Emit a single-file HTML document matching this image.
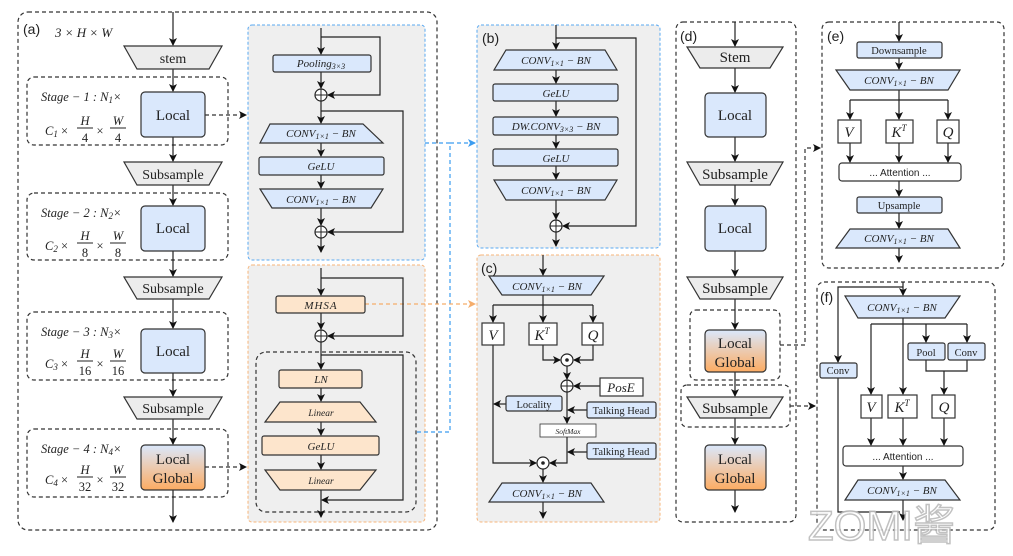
<!DOCTYPE html>
<html><head><meta charset="utf-8"><style>
html,body{margin:0;padding:0;background:#fff}
svg{display:block}
text{font-family:"Liberation Serif",serif;fill:#222}
.m{font-style:italic}
.s{font-family:"Liberation Sans",sans-serif}
</style></head><body>
<svg width="1013" height="556" viewBox="0 0 1013 556" xmlns="http://www.w3.org/2000/svg">
<defs>
<marker id="a" markerWidth="8" markerHeight="8" refX="7" refY="4" orient="auto" markerUnits="userSpaceOnUse"><path d="M0,0 L8,4 L0,8 L2,4 z" fill="#111"/></marker>
<marker id="ab" markerWidth="8" markerHeight="8" refX="7" refY="4" orient="auto" markerUnits="userSpaceOnUse"><path d="M0,0 L8,4 L0,8 L2,4 z" fill="#3b9cf0"/></marker>
<marker id="ao" markerWidth="8" markerHeight="8" refX="7" refY="4" orient="auto" markerUnits="userSpaceOnUse"><path d="M0,0 L8,4 L0,8 L2,4 z" fill="#f5ad6b"/></marker>
<linearGradient id="g" x1="0" y1="0" x2="0" y2="1"><stop offset="0" stop-color="#dae8fc"/><stop offset="1" stop-color="#fdac62"/></linearGradient>
</defs>
<g fill="none" stroke="#333" stroke-width="1.2">
<!-- (a) outer -->
<rect x="18" y="12" width="419" height="518" rx="10" stroke-dasharray="4,3"/>
<rect x="27" y="77" width="201" height="68" rx="7" stroke-dasharray="4,3"/>
<rect x="27" y="193" width="201" height="67" rx="7" stroke-dasharray="4,3"/>
<rect x="27" y="312" width="201" height="68" rx="7" stroke-dasharray="4,3"/>
<rect x="27" y="429" width="201" height="68" rx="7" stroke-dasharray="4,3"/>
</g>
<!-- gray panels -->
<rect x="248" y="25" width="177" height="235" rx="4" fill="#efefef" stroke="#5aa9f2" stroke-dasharray="3,2"/>
<rect x="248" y="265" width="177" height="257" rx="4" fill="#efefef" stroke="#f7b57a" stroke-dasharray="3,2"/>
<rect x="477" y="25" width="183" height="223" rx="4" fill="#efefef" stroke="#5aa9f2" stroke-dasharray="3,2"/>
<rect x="477" y="255" width="183" height="267" rx="4" fill="#efefef" stroke="#f7b57a" stroke-dasharray="3,2"/>
<g fill="none" stroke="#333" stroke-width="1.2" stroke-dasharray="4,3">
<rect x="256" y="352" width="160" height="160" rx="10"/>
<rect x="676" y="22" width="120" height="500" rx="7"/>
<rect x="690" y="310" width="90" height="70" rx="6"/>
<rect x="681" y="385" width="109" height="42" rx="6"/>
<rect x="822" y="22" width="182" height="246" rx="7"/>
<rect x="817" y="282" width="178" height="248" rx="7"/>
</g>
<!-- dashed connectors -->
<g fill="none" stroke-width="1.2" stroke-dasharray="4,3">
<path d="M205,115 H246" stroke="#333" marker-end="url(#a)"/>
<path d="M205,467 H246" stroke="#333" marker-end="url(#a)"/>
<path d="M425,143 H450 V432 H416" stroke="#3b9cf0"/>
<path d="M450,143 H475" stroke="#3b9cf0" marker-end="url(#ab)"/>
<path d="M365,304 H475" stroke="#f5ad6b" marker-end="url(#ao)"/>
<path d="M780,345 H805 V148 H820" stroke="#333" marker-end="url(#a)"/>
<path d="M790,406 H815" stroke="#333" marker-end="url(#a)"/>
</g>
<!-- solid lines -->
<g fill="none" stroke="#222" stroke-width="1.2">
<!-- a main -->
<path d="M173,12 V45" marker-end="url(#a)"/>
<path d="M173,69 V91" marker-end="url(#a)"/>
<path d="M173,137 V161" marker-end="url(#a)"/>
<path d="M173,185 V205" marker-end="url(#a)"/>
<path d="M173,251 V276" marker-end="url(#a)"/>
<path d="M173,299 V328" marker-end="url(#a)"/>
<path d="M173,373 V396" marker-end="url(#a)"/>
<path d="M173,419 V444" marker-end="url(#a)"/>
<path d="M173,490 V522" marker-end="url(#a)"/>
<!-- blue block -->
<path d="M321,28 V54" marker-end="url(#a)"/>
<path d="M321,37 H380 V95 H328" marker-end="url(#a)"/>
<path d="M321,72 V88" marker-end="url(#a)"/>
<path d="M321,101 V123" marker-end="url(#a)"/>
<path d="M321,111 H403 V232 H328" marker-end="url(#a)"/>
<path d="M321,143 V156" marker-end="url(#a)"/>
<path d="M321,175 V188" marker-end="url(#a)"/>
<path d="M321,208 V225" marker-end="url(#a)"/>
<path d="M321,238 V252" marker-end="url(#a)"/>
<!-- orange block -->
<path d="M321,268 V295" marker-end="url(#a)"/>
<path d="M321,278 H403 V336 H328" marker-end="url(#a)"/>
<path d="M321,313 V329" marker-end="url(#a)"/>
<path d="M321,342 V369" marker-end="url(#a)"/>
<path d="M321,355 H403 V500 H322" marker-end="url(#a)"/>
<path d="M321,388 V401" marker-end="url(#a)"/>
<path d="M321,422 V435" marker-end="url(#a)"/>
<path d="M321,455 V469" marker-end="url(#a)"/>
<path d="M321,490 V517" marker-end="url(#a)"/>
<!-- b -->
<path d="M556,25 V49" marker-end="url(#a)"/>
<path d="M556,38 H636 V226 H563" marker-end="url(#a)"/>
<path d="M556,70 V83" marker-end="url(#a)"/>
<path d="M556,101 V116" marker-end="url(#a)"/>
<path d="M556,135 V148" marker-end="url(#a)"/>
<path d="M556,166 V179" marker-end="url(#a)"/>
<path d="M556,200 V219" marker-end="url(#a)"/>
<path d="M556,232 V246" marker-end="url(#a)"/>
<!-- c -->
<path d="M543,255 V275" marker-end="url(#a)"/>
<path d="M543,295 V322" marker-end="url(#a)"/>
<path d="M493,305 H593"/>
<path d="M493,305 V322" marker-end="url(#a)"/>
<path d="M593,305 V322" marker-end="url(#a)"/>
<path d="M543,345 V360 H560" marker-end="url(#a)"/>
<path d="M593,345 V360 H574" marker-end="url(#a)"/>
<path d="M567,366 V379" marker-end="url(#a)"/>
<path d="M600,386 H574" marker-end="url(#a)"/>
<path d="M567,392 V423" marker-end="url(#a)"/>
<path d="M587,410 H568" marker-end="url(#a)"/>
<path d="M506,404 H494" marker-end="url(#a)"/>
<path d="M493,345 V463 H536" marker-end="url(#a)"/>
<path d="M567,437 V463 H550" marker-end="url(#a)"/>
<path d="M587,452 H568" marker-end="url(#a)"/>
<path d="M543,469 V482" marker-end="url(#a)"/>
<path d="M543,502 V518" marker-end="url(#a)"/>
<!-- d -->
<path d="M735,22 V46" marker-end="url(#a)"/>
<path d="M735,68 V92" marker-end="url(#a)"/>
<path d="M735,137 V161" marker-end="url(#a)"/>
<path d="M735,185 V205" marker-end="url(#a)"/>
<path d="M735,251 V276" marker-end="url(#a)"/>
<path d="M735,299 V329" marker-end="url(#a)"/>
<path d="M735,372 V396" marker-end="url(#a)"/>
<path d="M735,418 V444" marker-end="url(#a)"/>
<path d="M735,490 V512" marker-end="url(#a)"/>
<!-- e -->
<path d="M899,22 V41" marker-end="url(#a)"/>
<path d="M899,58 V69" marker-end="url(#a)"/>
<path d="M899,90 V119" marker-end="url(#a)"/>
<path d="M850,100 H948"/>
<path d="M850,100 V119" marker-end="url(#a)"/>
<path d="M948,100 V119" marker-end="url(#a)"/>
<path d="M850,143 V162" marker-end="url(#a)"/>
<path d="M899,143 V162" marker-end="url(#a)"/>
<path d="M948,143 V162" marker-end="url(#a)"/>
<path d="M899,181 V196" marker-end="url(#a)"/>
<path d="M899,213 V228" marker-end="url(#a)"/>
<path d="M899,248 V262" marker-end="url(#a)"/>
<!-- f -->
<path d="M903,282 V295" marker-end="url(#a)"/>
<path d="M903,287 H838 V362" marker-end="url(#a)"/>
<path d="M838,378 V512 H900" />
<path d="M903,318 V394" marker-end="url(#a)"/>
<path d="M871,324 H967"/>
<path d="M871,324 V394" marker-end="url(#a)"/>
<path d="M926,324 V342" marker-end="url(#a)"/>
<path d="M967,324 V342" marker-end="url(#a)"/>
<path d="M926,360 V371 H967 V360"/>
<path d="M944,371 V394" marker-end="url(#a)"/>
<path d="M871,418 V445" marker-end="url(#a)"/>
<path d="M903,418 V445" marker-end="url(#a)"/>
<path d="M944,418 V445" marker-end="url(#a)"/>
<path d="M903,466 V479" marker-end="url(#a)"/>
<path d="M903,500 V520" marker-end="url(#a)"/>
</g>
<!-- shapes -->
<g stroke="#333" stroke-width="1.2">
<!-- a column -->
<path d="M124,46 H222 L209,69 H137 Z" fill="#ececec"/>
<path d="M124,162 H222 L209,185 H137 Z" fill="#ececec"/>
<path d="M124,277 H222 L209,299 H137 Z" fill="#ececec"/>
<path d="M124,397 H222 L209,419 H137 Z" fill="#ececec"/>
<rect x="141" y="92" width="64" height="45" rx="4" fill="#dae8fc"/>
<rect x="141" y="206" width="64" height="45" rx="4" fill="#dae8fc"/>
<rect x="141" y="329" width="64" height="44" rx="4" fill="#dae8fc"/>
<rect x="141" y="445" width="64" height="45" rx="4" fill="url(#g)"/>
<!-- blue block -->
<rect x="273" y="55" width="98" height="17" rx="2" fill="#dae8fc"/>
<path d="M270,124 H363 L383,143 H260 Z" fill="#dae8fc"/>
<rect x="259" y="157" width="125" height="18" rx="2" fill="#dae8fc"/>
<path d="M260,189 H383 L371,208 H272 Z" fill="#dae8fc"/>
<!-- orange -->
<rect x="276" y="296" width="89" height="17" rx="2" fill="#fde5cc"/>
<rect x="279" y="370" width="83" height="18" rx="2" fill="#fde5cc"/>
<path d="M280,402 H360 L376,422 H265 Z" fill="#fde5cc"/>
<rect x="262" y="436" width="117" height="19" rx="2" fill="#fde5cc"/>
<path d="M265,470 H376 L360,490 H280 Z" fill="#fde5cc"/>
<!-- b -->
<path d="M506,50 H605 L617,70 H494 Z" fill="#dae8fc"/>
<rect x="493" y="84" width="125" height="17" rx="2" fill="#dae8fc"/>
<rect x="493" y="117" width="125" height="18" rx="2" fill="#dae8fc"/>
<rect x="493" y="149" width="125" height="17" rx="2" fill="#dae8fc"/>
<path d="M494,180 H617 L605,200 H506 Z" fill="#dae8fc"/>
<!-- c -->
<path d="M489,276 H604 L591,295 H502 Z" fill="#dae8fc"/>
<rect x="482" y="323" width="22" height="22" fill="#fff"/>
<rect x="529" y="323" width="28" height="22" fill="#fff"/>
<rect x="582" y="323" width="21" height="22" fill="#fff"/>
<rect x="600" y="378" width="43" height="18" fill="#fff"/>
<rect x="506" y="396" width="56" height="15" rx="2" fill="#dae8fc"/>
<rect x="587" y="402" width="69" height="16" rx="2" fill="#dae8fc"/>
<rect x="587" y="443" width="69" height="16" rx="2" fill="#dae8fc"/>
<rect x="540" y="424" width="56" height="13" fill="#fff" stroke-width="0.8"/>
<path d="M502,483 H591 L604,502 H489 Z" fill="#dae8fc"/>
<!-- d -->
<path d="M687,47 H783 L770,68 H700 Z" fill="#ececec"/>
<rect x="705" y="93" width="61" height="44" rx="4" fill="#dae8fc"/>
<path d="M687,162 H783 L770,185 H700 Z" fill="#ececec"/>
<rect x="705" y="206" width="61" height="45" rx="4" fill="#dae8fc"/>
<path d="M687,277 H783 L770,299 H700 Z" fill="#ececec"/>
<rect x="705" y="330" width="61" height="42" rx="4" fill="url(#g)"/>
<path d="M687,397 H783 L770,418 H700 Z" fill="#ececec"/>
<rect x="705" y="445" width="61" height="45" rx="4" fill="url(#g)"/>
<!-- e -->
<rect x="857" y="42" width="85" height="16" rx="2" fill="#dae8fc"/>
<path d="M836,70 H960 L948,90 H850 Z" fill="#dae8fc"/>
<rect x="838" y="120" width="23" height="23" fill="#fff"/>
<rect x="886" y="120" width="27" height="23" fill="#fff"/>
<rect x="937" y="120" width="22" height="23" fill="#fff"/>
<rect x="839" y="163" width="122" height="18" rx="3" fill="#fff"/>
<rect x="857" y="197" width="85" height="16" rx="2" fill="#dae8fc"/>
<path d="M850,229 H948 L960,248 H836 Z" fill="#dae8fc"/>
<!-- f -->
<path d="M845,296 H960 L945,318 H858 Z" fill="#dae8fc"/>
<rect x="820" y="363" width="37" height="15" rx="2" fill="#dae8fc"/>
<rect x="908" y="343" width="37" height="17" rx="2" fill="#dae8fc"/>
<rect x="948" y="343" width="37" height="17" rx="2" fill="#dae8fc"/>
<rect x="861" y="395" width="21" height="23" fill="#fff"/>
<rect x="888" y="395" width="29" height="23" fill="#fff"/>
<rect x="932" y="395" width="23" height="23" fill="#fff"/>
<rect x="843" y="446" width="120" height="20" rx="3" fill="#fff"/>
<path d="M858,480 H945 L960,500 H845 Z" fill="#dae8fc"/>
</g>
<!-- circles -->
<g fill="#fff" stroke="#222" stroke-width="1.2">
<circle cx="321" cy="95" r="6"/><circle cx="321" cy="232" r="6"/><circle cx="321" cy="336" r="6"/>
<circle cx="556" cy="226" r="6"/><circle cx="567" cy="386" r="6"/>
<circle cx="567" cy="360" r="6"/><circle cx="543" cy="463" r="6"/>
</g>
<g stroke="#222" stroke-width="1">
<path d="M315,95 H327 M321,89 V101 M315,232 H327 M321,226 V238 M315,336 H327 M321,330 V342 M550,226 H562 M556,220 V232 M561,386 H573 M567,380 V392"/>
</g>
<circle cx="567" cy="360" r="1.8" fill="#222"/><circle cx="543" cy="463" r="1.8" fill="#222"/>
<!-- text -->
<g font-size="13">
<text x="23" y="34" class="s" font-size="14">(a)</text>
<text x="55" y="37" class="m" font-size="13">3 × H × W</text>
<text x="173" y="63" text-anchor="middle" font-size="14">stem</text>
<text x="173" y="179" text-anchor="middle" font-size="14">Subsample</text>
<text x="173" y="293" text-anchor="middle" font-size="14">Subsample</text>
<text x="173" y="413" text-anchor="middle" font-size="14">Subsample</text>
<text x="173" y="120" text-anchor="middle" font-size="15">Local</text>
<text x="173" y="233" text-anchor="middle" font-size="15">Local</text>
<text x="173" y="356" text-anchor="middle" font-size="15">Local</text>
<text x="173" y="464" text-anchor="middle" font-size="15">Local</text>
<text x="173" y="483" text-anchor="middle" font-size="15">Global</text>
</g>
<g font-size="12.5" class="m">
<text x="41" y="101" class="m">Stage − 1 : N<tspan font-size="9" dy="2">1</tspan><tspan dy="-2">×</tspan></text>
<text x="41" y="217" class="m">Stage − 2 : N<tspan font-size="9" dy="2">2</tspan><tspan dy="-2">×</tspan></text>
<text x="41" y="336" class="m">Stage − 3 : N<tspan font-size="9" dy="2">3</tspan><tspan dy="-2">×</tspan></text>
<text x="41" y="453" class="m">Stage − 4 : N<tspan font-size="9" dy="2">4</tspan><tspan dy="-2">×</tspan></text>
</g>
<g font-size="12.5">
<g transform="translate(0,0)">
<text x="45" y="135" class="m">C<tspan font-size="9" dy="2">1</tspan><tspan dy="-2" font-style="normal"> ×</tspan></text>
<text x="85" y="125" class="m" text-anchor="middle">H</text><text x="85" y="142" text-anchor="middle">4</text>
<text x="100" y="135" text-anchor="middle">×</text>
<text x="118" y="125" class="m" text-anchor="middle">W</text><text x="118" y="142" text-anchor="middle">4</text>
</g>
<text x="45" y="250" class="m">C<tspan font-size="9" dy="2">2</tspan><tspan dy="-2" font-style="normal"> ×</tspan></text>
<text x="85" y="240" class="m" text-anchor="middle">H</text><text x="85" y="257" text-anchor="middle">8</text>
<text x="100" y="250" text-anchor="middle">×</text>
<text x="118" y="240" class="m" text-anchor="middle">W</text><text x="118" y="257" text-anchor="middle">8</text>
<text x="45" y="368" class="m">C<tspan font-size="9" dy="2">3</tspan><tspan dy="-2" font-style="normal"> ×</tspan></text>
<text x="85" y="358" class="m" text-anchor="middle">H</text><text x="85" y="375" text-anchor="middle">16</text>
<text x="100" y="368" text-anchor="middle">×</text>
<text x="118" y="358" class="m" text-anchor="middle">W</text><text x="118" y="375" text-anchor="middle">16</text>
<text x="45" y="484" class="m">C<tspan font-size="9" dy="2">4</tspan><tspan dy="-2" font-style="normal"> ×</tspan></text>
<text x="85" y="474" class="m" text-anchor="middle">H</text><text x="85" y="491" text-anchor="middle">32</text>
<text x="100" y="484" text-anchor="middle">×</text>
<text x="118" y="474" class="m" text-anchor="middle">W</text><text x="118" y="491" text-anchor="middle">32</text>
</g>
<g stroke="#222" stroke-width="0.9">
<path d="M77,128 H93 M110,128 H126 M77,243 H93 M110,243 H126 M77,361 H93 M110,361 H126 M77,477 H93 M110,477 H126"/>
</g>
<!-- block texts -->
<g font-size="11" class="m" text-anchor="middle">
<text x="321" y="67" class="m">Pooling<tspan font-size="8" dy="2">3×3</tspan></text>
<text x="321" y="137" class="m">CONV<tspan font-size="8" dy="2">1×1</tspan><tspan dy="-2"> − BN</tspan></text>
<text x="321" y="170" class="m">GeLU</text>
<text x="321" y="203" class="m">CONV<tspan font-size="8" dy="2">1×1</tspan><tspan dy="-2"> − BN</tspan></text>
<text x="321" y="309" class="m" letter-spacing="1">MHSA</text>
<text x="321" y="383" class="m">LN</text>
<text x="321" y="416" class="m" font-size="9.5">Linear</text>
<text x="321" y="450" class="m">GeLU</text>
<text x="321" y="484" class="m" font-size="9.5">Linear</text>
<text x="556" y="64" class="m">CONV<tspan font-size="8" dy="2">1×1</tspan><tspan dy="-2"> − BN</tspan></text>
<text x="556" y="97" class="m">GeLU</text>
<text x="556" y="130" class="m">DW.CONV<tspan font-size="8" dy="2">3×3</tspan><tspan dy="-2"> − BN</tspan></text>
<text x="556" y="162" class="m">GeLU</text>
<text x="556" y="194" class="m">CONV<tspan font-size="8" dy="2">1×1</tspan><tspan dy="-2"> − BN</tspan></text>
<text x="547" y="290" class="m">CONV<tspan font-size="8" dy="2">1×1</tspan><tspan dy="-2"> − BN</tspan></text>
<text x="547" y="497" class="m">CONV<tspan font-size="8" dy="2">1×1</tspan><tspan dy="-2"> − BN</tspan></text>
<text x="899" y="84" class="m">CONV<tspan font-size="8" dy="2">1×1</tspan><tspan dy="-2"> − BN</tspan></text>
<text x="899" y="242" class="m">CONV<tspan font-size="8" dy="2">1×1</tspan><tspan dy="-2"> − BN</tspan></text>
<text x="902" y="311" class="m">CONV<tspan font-size="8" dy="2">1×1</tspan><tspan dy="-2"> − BN</tspan></text>
<text x="902" y="494" class="m">CONV<tspan font-size="8" dy="2">1×1</tspan><tspan dy="-2"> − BN</tspan></text>
<text x="568" y="434" class="m" font-size="7.5">SoftMax</text>
</g>
<g font-size="15" class="m" text-anchor="middle">
<text x="493" y="340" class="m">V</text>
<text x="542" y="340" class="m">K<tspan font-size="9" dy="-6">T</tspan></text>
<text x="593" y="340" class="m">Q</text>
<text x="621" y="392" class="m" font-size="13">PosE</text>
<text x="849" y="137" class="m">V</text>
<text x="899" y="137" class="m">K<tspan font-size="9" dy="-6">T</tspan></text>
<text x="948" y="137" class="m">Q</text>
<text x="871" y="412" class="m">V</text>
<text x="902" y="412" class="m">K<tspan font-size="9" dy="-6">T</tspan></text>
<text x="944" y="412" class="m">Q</text>
</g>
<g font-size="10.5" text-anchor="middle">
<text x="534" y="408">Locality</text>
<text x="621" y="414">Talking Head</text>
<text x="621" y="455">Talking Head</text>
<text x="899" y="54">Downsample</text>
<text x="899" y="209">Upsample</text>
<text x="838" y="374">Conv</text>
<text x="926" y="356">Pool</text>
<text x="966" y="356">Conv</text>
<text x="900" y="176" class="s" font-size="10">... Attention ...</text>
<text x="903" y="460" class="s" font-size="10">... Attention ...</text>
</g>
<g font-size="15" text-anchor="middle">
<text x="735" y="62">Stem</text>
<text x="735" y="120">Local</text>
<text x="735" y="179">Subsample</text>
<text x="735" y="233">Local</text>
<text x="735" y="293">Subsample</text>
<text x="735" y="348">Local</text><text x="735" y="367">Global</text>
<text x="735" y="413">Subsample</text>
<text x="735" y="464">Local</text><text x="735" y="483">Global</text>
</g>
<g class="s" font-size="14">
<text x="482" y="43" class="s">(b)</text>
<text x="481" y="273" class="s">(c)</text>
<text x="680" y="41" class="s">(d)</text>
<text x="827" y="41" class="s">(e)</text>
<text x="820" y="302" class="s">(f)</text>
</g>
<text x="808" y="540" class="s" font-size="42" fill="#fff" stroke="#bbb" stroke-width="1.5" style="fill:#fff;font-family:'Liberation Sans','Noto Sans CJK SC',sans-serif" opacity="0.9">ZOMI酱</text>
</svg>
</body></html>
